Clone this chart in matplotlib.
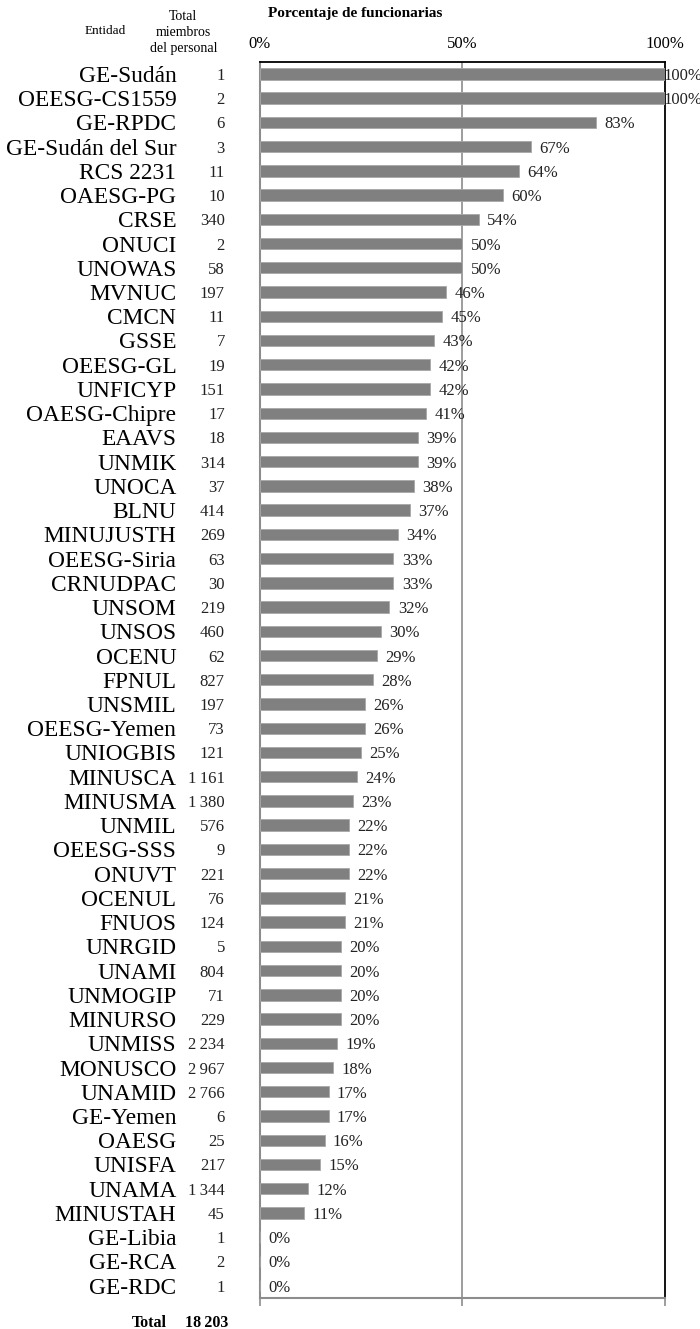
import matplotlib
matplotlib.use("Agg")
import matplotlib.pyplot as plt
import matplotlib.transforms as mtransforms

plt.rcParams['font.family'] = ['Liberation Serif', 'DejaVu Serif']

# Data
entities = ['GE-Sudán', 'OEESG-CS1559', 'GE-RPDC', 'GE-Sudán del Sur', 'RCS 2231',
            'OAESG-PG', 'CRSE', 'ONUCI', 'UNOWAS', 'MVNUC', 'CMCN', 'GSSE',
            'OEESG-GL', 'UNFICYP', 'OAESG-Chipre', 'EAAVS', 'UNMIK', 'UNOCA',
            'BLNU', 'MINUJUSTH', 'OEESG-Siria', 'CRNUDPAC', 'UNSOM', 'UNSOS',
            'OCENU', 'FPNUL', 'UNSMIL', 'OEESG-Yemen', 'UNIOGBIS', 'MINUSCA',
            'MINUSMA', 'UNMIL', 'OEESG-SSS', 'ONUVT', 'OCENUL', 'FNUOS',
            'UNRGID', 'UNAMI', 'UNMOGIP', 'MINURSO', 'UNMISS', 'MONUSCO',
            'UNAMID', 'GE-Yemen', 'OAESG', 'UNISFA', 'UNAMA', 'MINUSTAH',
            'GE-Libia', 'GE-RCA', 'GE-RDC']
staff_total = [1, 2, 6, 3, 11, 10, 340, 2, 58, 197, 11, 7, 19, 151, 17, 18, 314, 37,
               414, 269, 63, 30, 219, 460, 62, 827, 197, 73, 121, 1161, 1380, 576, 9,
               221, 76, 124, 5, 804, 71, 229, 2234, 2967, 2766, 6, 25, 217, 1344, 45,
               1, 2, 1]
pct_women = [100, 100, 83, 67, 64, 60, 54, 50, 50, 46, 45, 43, 42, 42, 41, 39, 39, 38,
             37, 34, 33, 33, 32, 30, 29, 28, 26, 26, 25, 24, 23, 22, 22, 22, 21, 21,
             20, 20, 20, 20, 19, 18, 17, 17, 16, 15, 12, 11, 0, 0, 0]
grand_total = 18203
x_ticks = [0, 50, 100]
x_tick_labels = ['0%', '50%', '100%']


def fmt_num(n):
    # thousands separated by a thin space
    return f'{n:,}'.replace(',', '\u2009')


fig = plt.figure(figsize=(7, 13.29), dpi=100)
ax = fig.add_axes([0.371, 0.0235, 0.579, 0.9300])

y = list(range(len(entities)))
ax.barh(y, pct_women, height=0.47, color='#808080', edgecolor='#a8a8a8',
        linewidth=0.6, zorder=3)

ax.set_xlim(0, 100)
ax.set_ylim(len(entities) - 0.5, -0.5)

# 50% gridline
ax.axvline(50, color='#8c8c8c', lw=1.2, zorder=1)

# percentage labels to the right of each bar
for yi, v in zip(y, pct_women):
    ax.annotate(f'{v}%', (min(v, 97.6), yi), xytext=(6, 0), textcoords='offset points',
                ha='left', va='center_baseline', fontsize=12, color='#222222', zorder=4,
                annotation_clip=False)

# entity names as y tick labels
ax.set_yticks(y)
ax.set_yticklabels(entities, fontsize=16.8)
ax.tick_params(axis='y', length=0, pad=60)

# staff totals column
trans = mtransforms.blended_transform_factory(ax.transAxes, ax.transData)
for yi, n in zip(y, staff_total):
    ax.text(-0.086, yi, fmt_num(n), transform=trans, ha='right', va='center_baseline',
            fontsize=12, color='#222222')

# x ticks: labels on top, small marks at the bottom
ax.set_xticks(x_ticks)
ax.set_xticklabels(x_tick_labels, fontsize=12)
ax.tick_params(axis='x', top=False, labeltop=True, bottom=True, labelbottom=False,
               direction='out', length=6, width=1.2, color='#8c8c8c', pad=1)

for side in ['top', 'right']:
    ax.spines[side].set_color('black')
    ax.spines[side].set_linewidth(1.3)
for side in ['left', 'bottom']:
    ax.spines[side].set_color('#8c8c8c')
    ax.spines[side].set_linewidth(1.5)

# headers
fig.text(0.507, 0.9895, 'Porcentaje de funcionarias', ha='center', va='center',
         fontsize=11, fontweight='bold')
fig.text(0.150, 0.9765, 'Entidad', ha='center', va='center', fontsize=9.5)
fig.text(0.262, 0.9752, 'Total\nmiembros\ndel personal', ha='center', va='center',
         fontsize=10, linespacing=1.3)

# grand total
fig.text(0.214, 0.0045, 'Total', ha='center', va='center', fontsize=11.5, fontweight='bold')
fig.text(0.326, 0.0045, fmt_num(grand_total), ha='right', va='center', fontsize=11.5,
         fontweight='bold')

fig.savefig('out.png', dpi=100, facecolor='white')
